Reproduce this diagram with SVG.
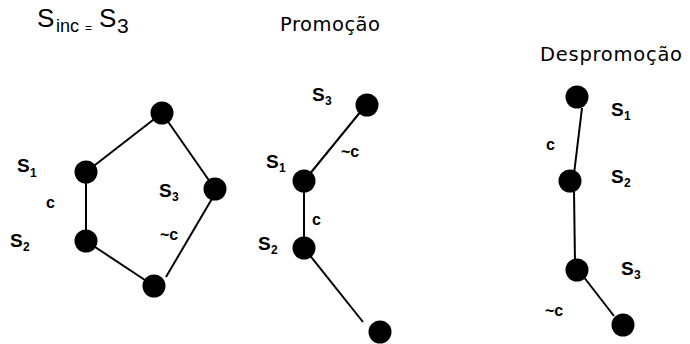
<svg xmlns="http://www.w3.org/2000/svg" width="690" height="344" viewBox="0 0 690 344">
<style>
.n{fill:#000}
.e{stroke:#000;stroke-width:2;fill:none}
.l{font-family:"Liberation Sans",Arial,sans-serif;font-weight:bold;font-size:19px;fill:#000}
.s{font-family:"Liberation Sans",Arial,sans-serif;font-weight:bold;font-size:12px;fill:#000}
.c{font-family:"Liberation Sans",Arial,sans-serif;font-weight:bold;font-size:16px;fill:#000}
.t{font-family:"DejaVu Sans",Verdana,sans-serif;font-size:19.5px;fill:#000}
.h{font-family:"Liberation Sans",Arial,sans-serif;fill:#000}
</style>
<rect width="690" height="344" fill="#fff"/>
<g id="title">
<text class="h" x="37" y="27" font-size="26">S</text>
<text class="h" x="56" y="32" font-size="18">inc</text>
<text class="h" x="85" y="32" font-size="12">=</text>
<text class="h" x="99" y="27" font-size="26">S</text>
<text class="h" x="117" y="33" font-size="21">3</text>
<text class="t" x="280" y="31" textLength="100" lengthAdjust="spacing">Promoção</text>
<text class="t" x="540" y="61" textLength="142" lengthAdjust="spacing">Despromoção</text>
</g>
<g id="connectors">
<line class="e" x1="162" y1="113" x2="86" y2="172"/>
<line class="e" x1="162" y1="113" x2="215" y2="189"/>
<line class="e" x1="86" y1="172" x2="86" y2="241"/>
<line class="e" x1="86" y1="241" x2="154" y2="286"/>
<line class="e" x1="213" y1="197" x2="166" y2="277"/>
<line class="e" x1="366" y1="105" x2="304" y2="181"/>
<line class="e" x1="304" y1="181" x2="304" y2="248"/>
<line class="e" x1="304" y1="248" x2="363" y2="322"/>
<line class="e" x1="582" y1="108" x2="574" y2="174"/>
<line class="e" x1="574" y1="190" x2="575" y2="264"/>
<line class="e" x1="583" y1="276" x2="614" y2="316"/>
</g>
<g id="pentagon">
<g id="p-top"><circle class="n" cx="162" cy="113" r="11.5"/></g>
<g id="p-s1"><circle class="n" cx="86" cy="172" r="11.5"/></g>
<g id="p-right"><circle class="n" cx="215" cy="189" r="11.5"/></g>
<g id="p-s2"><circle class="n" cx="86" cy="241" r="11.5"/></g>
<g id="p-bottom"><circle class="n" cx="154" cy="286" r="11.5"/></g>
<text class="l" x="17" y="172">S</text><text class="s" x="30" y="177">1</text>
<text class="c" x="46" y="208">c</text>
<text class="l" x="10" y="247">S</text><text class="s" x="23" y="251">2</text>
<text class="l" x="159" y="197">S</text><text class="s" x="172" y="201">3</text>
<text class="c" x="160" y="240">~c</text>
</g>
<g id="promocao">
<g id="pr-s3"><circle class="n" cx="367" cy="105" r="11.5"/></g>
<g id="pr-s1"><circle class="n" cx="304" cy="181" r="11.5"/></g>
<g id="pr-s2"><circle class="n" cx="304" cy="248" r="11.5"/></g>
<g id="pr-bottom"><circle class="n" cx="380" cy="332" r="11.5"/></g>
<text class="l" x="312" y="101">S</text><text class="s" x="325" y="105">3</text>
<text class="c" x="341" y="157">~c</text>
<text class="l" x="266" y="168">S</text><text class="s" x="279" y="172">1</text>
<text class="c" x="312" y="225">c</text>
<text class="l" x="258" y="250">S</text><text class="s" x="271" y="254">2</text>
</g>
<g id="despromocao">
<g id="d-s1"><circle class="n" cx="577" cy="97" r="11.5"/></g>
<g id="d-s2"><circle class="n" cx="570" cy="181" r="11.5"/></g>
<g id="d-s3"><circle class="n" cx="577" cy="270" r="11.5"/></g>
<g id="d-bottom"><circle class="n" cx="623" cy="325" r="11.5"/></g>
<text class="l" x="611" y="116">S</text><text class="s" x="624" y="120">1</text>
<text class="c" x="546" y="150">c</text>
<text class="l" x="611" y="183">S</text><text class="s" x="624" y="187">2</text>
<text class="l" x="621" y="275">S</text><text class="s" x="634" y="279">3</text>
<text class="c" x="545" y="316">~c</text>
</g>
</svg>
